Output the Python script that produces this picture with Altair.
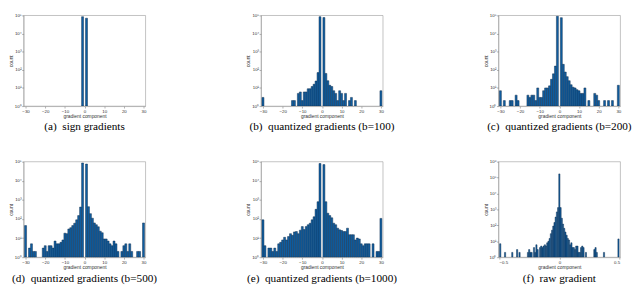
import altair as alt
import pandas as pd

# ---------------- data ----------------
a_bins = [-1, 1]
a_counts = [85000, 70000]

b_bins = [-30, -15, -14, -12, -11, -10, -9, -8, -7, -6, -5, -4, -3, -2, -1,
          1, 2, 3, 4, 5, 6, 7, 8, 9, 10, 11, 12, 14, 15, 17, 30]
b_counts = [3, 2, 2, 5, 6, 2, 6, 6, 9, 9, 12, 16, 24, 70, 85000,
            76000, 63, 25, 14, 12, 7, 5, 2, 7, 5, 2, 5, 2, 3, 2, 7]

c_bins = [-30, -28, -25, -24, -22, -21, -16, -15, -14, -13, -12, -11, -10, -9, -8,
          -7, -6, -5, -4, -3, -2, -1,
          1, 2, 3, 4, 5, 6, 7, 8, 9, 10, 11, 12, 13, 15, 18, 19, 20, 23, 25, 27, 30]
c_counts = [7, 2, 2, 2, 4, 2, 4, 3, 4, 4, 2, 10, 3, 3, 7,
            10, 10, 13, 30, 60, 160, 90000,
            75000, 200, 75, 42, 25, 15, 11, 10, 8, 7, 5, 5, 10, 2, 5, 4, 2, 2, 2, 2, 14]

d_bins = [-30, -28, -27, -26, -25, -21, -20, -19, -18, -17, -16, -15, -14, -13, -12,
          -11, -10, -9, -8, -7, -6, -5, -4, -3, -2, -1,
          1, 2, 3, 4, 5, 6, 7, 8, 9, 10, 11, 12, 13, 14, 15, 16, 17, 19, 20,
          21, 22, 23, 24, 27, 28, 30]
d_counts = [45, 3, 5, 2, 2, 3, 4, 2, 4, 4, 3, 7, 5, 5, 6,
            8, 18, 17, 30, 35, 45, 60, 90, 150, 420, 85000,
            75000, 440, 190, 110, 62, 50, 39, 23, 19, 9, 9, 7, 5, 4, 7, 5, 2, 2, 4,
            5, 2, 5, 2, 2, 2, 62]

e_bins = [-30, -29, -27, -26, -25, -24, -23, -22, -21, -20, -19, -18, -17, -16, -15,
          -14, -13, -12, -11, -10, -9, -8, -7, -6, -5, -4, -3, -2, -1,
          1, 2, 3, 4, 5, 6, 7, 8, 9, 10, 11, 12, 13, 14, 15, 16, 17, 18, 19, 20,
          21, 22, 23, 24, 26, 28, 29, 30]
e_counts = [90, 4, 3, 3, 2, 3, 2, 5, 6, 8, 11, 8, 12, 17, 14,
            21, 22, 17, 26, 40, 28, 40, 50, 60, 90, 130, 320, 800, 80000,
            70000, 800, 200, 150, 115, 60, 50, 33, 27, 25, 22, 22, 33, 15, 15, 15, 8, 10, 9, 5,
            4, 5, 5, 5, 5, 2, 2, 107]

f_bins = [-0.49, -0.45, -0.39, -0.35, -0.33, -0.26, -0.25, -0.24, -0.23, -0.21, -0.20,
          -0.19, -0.18, -0.16, -0.15, -0.14, -0.13, -0.12, -0.11, -0.10, -0.09, -0.08,
          -0.07, -0.06, -0.05, -0.04, -0.03, -0.02, -0.01, 0.0, 0.01, 0.02, 0.03, 0.04,
          0.05, 0.06, 0.07, 0.08, 0.09, 0.10, 0.11, 0.12, 0.13, 0.14, 0.15, 0.16, 0.17,
          0.18, 0.19, 0.20, 0.22, 0.29, 0.30, 0.31, 0.37, 0.49]
f_counts = [7, 2, 2, 3, 2, 2, 3, 2, 2, 4, 2,
            6, 3, 4, 5, 4, 5, 6, 5, 8, 10, 15,
            30, 50, 90, 150, 330, 700, 1300, 170000, 1300, 280, 120, 65,
            38, 24, 15, 12, 6, 8, 4, 4, 3, 5, 5, 2, 2,
            4, 5, 4, 2, 3, 4, 2, 2, 14]

captions = [
    "(a)\u00a0 sign gradients",
    "(b)\u00a0 quantized gradients (b=100)",
    "(c)\u00a0 quantized gradients (b=200)",
    "(d)\u00a0 quantized gradients (b=500)",
    "(e)\u00a0 quantized gradients (b=1000)",
    "(f)\u00a0 raw gradient",
]

int_ticks = [-30, -20, -10, 0, 10, 20, 30]
raw_ticks = [-0.5, 0, 0.5]

FILL = "#0f5fa3"
EDGE = "#12304f"
SUP = "['\u2070','\u00b9','\u00b2','\u00b3','\u2074','\u2075','\u2076']"


def panel(bins, counts, caption, binw, xdom, xticks, ymax_exp, h, xfmt):
    df = pd.DataFrame({"v": bins, "c": counts})
    yt = [10 ** k for k in range(0, ymax_exp + 1)]
    return (
        alt.Chart(df)
        .transform_calculate(x0=f"datum.v - {binw / 2}", x1=f"datum.v + {binw / 2}")
        .mark_rect(fill=FILL, stroke=EDGE, strokeWidth=0.5, clip=True)
        .encode(
            x=alt.X("x0:Q",
                    scale=alt.Scale(domain=xdom, nice=False, zero=False),
                    axis=alt.Axis(values=xticks, title="gradient component", format=xfmt)),
            x2="x1:Q",
            y=alt.Y("c:Q",
                    scale=alt.Scale(type="log", domain=[1, 10 ** ymax_exp], nice=False),
                    axis=alt.Axis(values=yt, title="count",
                                  labelExpr=f"'10' + {SUP}[round(log(datum.value)/LN10)]")),
            y2=alt.datum(1),
        )
        .properties(
            width=125, height=h,
            title=alt.TitleParams(caption, orient="bottom", anchor="middle",
                                  font="Liberation Serif", fontSize=11.5,
                                  fontWeight="normal", color="black", offset=3),
        )
    )


top_h = 93
bot_h = 98
pa = panel(a_bins, a_counts, captions[0], 1, [-31, 31], int_ticks, 5, top_h, "d")
pb = panel(b_bins, b_counts, captions[1], 1, [-31, 31], int_ticks, 5, top_h, "d")
pc = panel(c_bins, c_counts, captions[2], 1, [-31, 31], int_ticks, 5, top_h, "d")
pd_ = panel(d_bins, d_counts, captions[3], 1, [-31, 31], int_ticks, 5, bot_h, "d")
pe = panel(e_bins, e_counts, captions[4], 1, [-31, 31], int_ticks, 5, bot_h, "d")
pf = panel(f_bins, f_counts, captions[5], 0.01, [-0.505, 0.505], raw_ticks, 6, bot_h, "g")

chart = (
    alt.concat(pa, pb, pc, pd_, pe, pf, columns=3,
               spacing={"row": 57, "column": 118.5}, bounds="flush")
    .properties(padding=0, background="white")
    .configure_view(stroke="#9a9a9a", strokeWidth=0.6)
    .configure_axis(
        labelFont="Liberation Sans", labelFontSize=4.5, labelColor="#333333",
        titleFont="Liberation Sans", titleFontSize=5, titleFontWeight="normal",
        titleColor="#333333", tickSize=2, tickColor="#666666", tickWidth=0.5,
        domainColor="#9a9a9a", domainWidth=0.6, labelPadding=0.5, titlePadding=1,
        grid=False,
    )
)

chart.save("out.html", embed_options={"renderer": "svg", "actions": False})
